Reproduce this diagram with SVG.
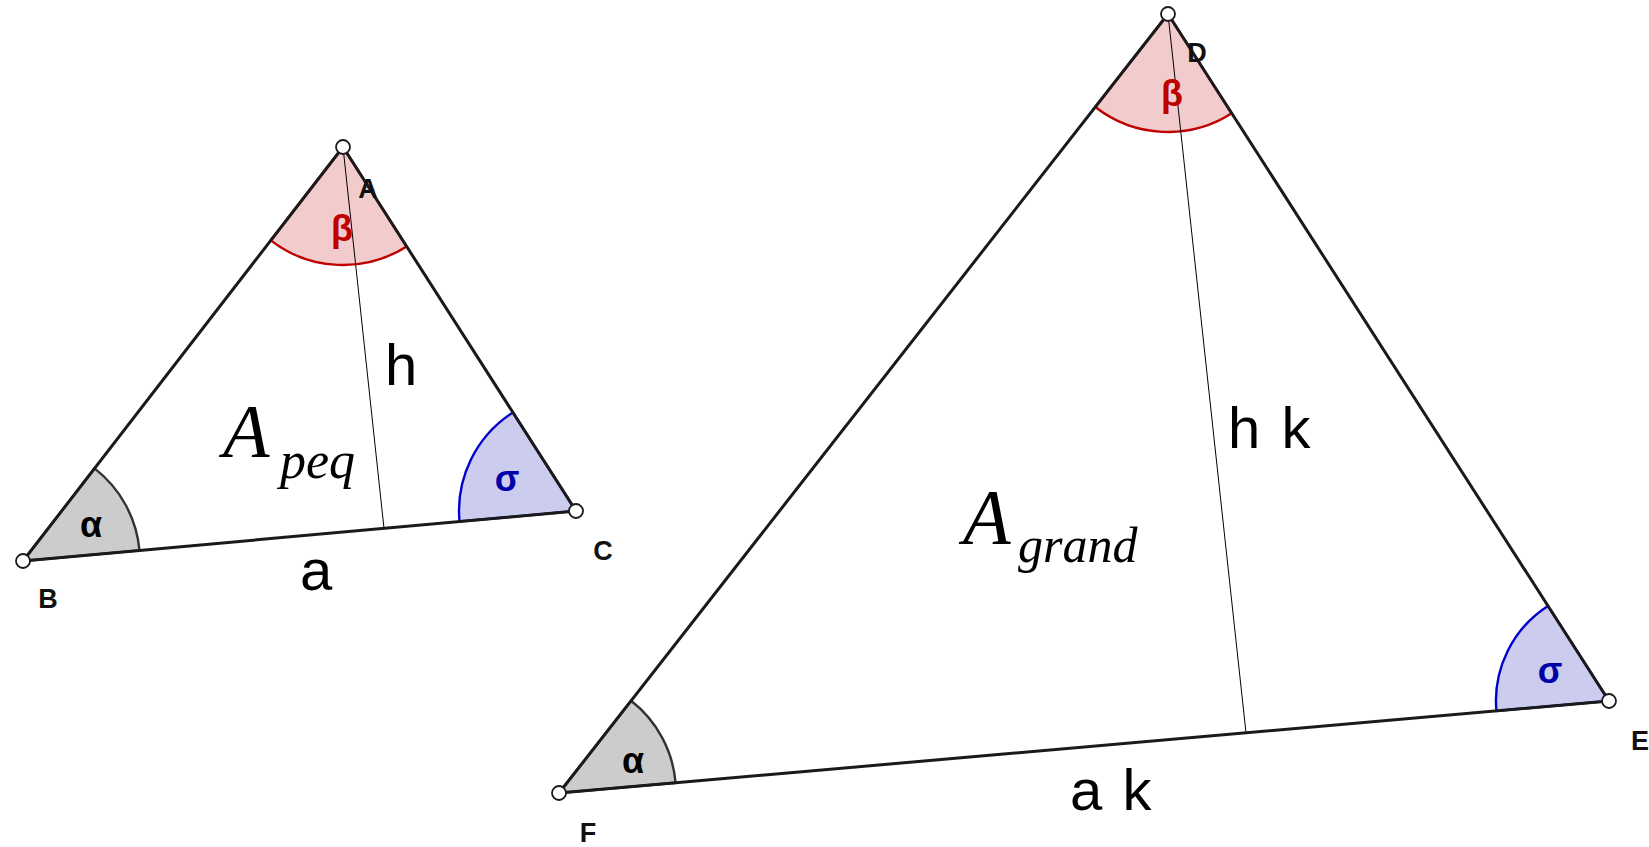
<svg xmlns="http://www.w3.org/2000/svg" width="1649" height="847" viewBox="0 0 1649 847">
<style>
.side{fill:none;stroke:#1a1a1a;stroke-width:3;stroke-linejoin:round}
.alt{stroke:#000;stroke-width:1}
.pt{fill:#fff;stroke:#1a1a1a;stroke-width:1.8}
.beta{fill:#f2cccc;stroke:#c00000;stroke-width:2.4}
.alpha{fill:#cccccc;stroke:#333;stroke-width:2.4}
.sigma{fill:#ccccee;stroke:#0000cc;stroke-width:2.4}
.vl{font-family:"Liberation Sans",Arial,sans-serif;font-weight:bold;font-size:27px;fill:#111;text-anchor:middle}
.gk{font-family:"Liberation Sans","DejaVu Sans",sans-serif;font-weight:bold;font-size:36px;text-anchor:middle}
.len{font-family:"Liberation Sans",Arial,sans-serif;font-size:58px;fill:#000}
.area{font-family:"Liberation Serif","Times New Roman",serif;font-style:italic;fill:#000}
</style>
<rect width="1649" height="847" fill="#fff"/>
<g id="angles">
<path class="beta" d="M343,147 L270.8,240.4 A118,118 0 0 0 406.6,246.4 Z"/>
<path class="alpha" d="M23,561 L94.5,468.4 A117,117 0 0 1 139.5,550.5 Z"/>
<path class="sigma" d="M576,511 L512.9,412.5 A117,117 0 0 0 459.5,521.5 Z"/>
<path class="beta" d="M1168,14 L1095.3,107 A118,118 0 0 0 1231.7,113.3 Z"/>
<path class="alpha" d="M559,793 L631.1,700.8 A117,117 0 0 1 675.6,782.8 Z"/>
<path class="sigma" d="M1609,701 L1548,605.9 A113,113 0 0 0 1496.4,710.9 Z"/>
</g>
<g id="connectors">
<line class="alt" x1="343" y1="147" x2="384" y2="528.4"/>
<line class="alt" x1="1168" y1="14" x2="1246" y2="732.8"/>
<polygon class="side" points="343,147 23,561 576,511"/>
<polygon class="side" points="1168,14 559,793 1609,701"/>
</g>
<g id="A"><circle class="pt" cx="343" cy="147" r="7"/><text class="vl" x="368" y="198">A</text></g>
<g id="B"><circle class="pt" cx="23" cy="561" r="7"/><text class="vl" x="48" y="608">B</text></g>
<g id="C"><circle class="pt" cx="576" cy="511" r="7"/><text class="vl" x="603" y="560">C</text></g>
<g id="D"><circle class="pt" cx="1168" cy="14" r="7"/><text class="vl" x="1197" y="62">D</text></g>
<g id="E"><circle class="pt" cx="1609" cy="701" r="7"/><text class="vl" x="1640" y="750">E</text></g>
<g id="F"><circle class="pt" cx="559" cy="793" r="7"/><text class="vl" x="588" y="842">F</text></g>
<g id="labels">
<text class="gk" x="342" y="241" fill="#c00000">β</text>
<text class="gk" x="91" y="537" fill="#000">α</text>
<text class="gk" x="507" y="491" fill="#0000aa">σ</text>
<text class="gk" x="1172" y="106" fill="#c00000">β</text>
<text class="gk" x="633" y="773" fill="#000">α</text>
<text class="gk" x="1550" y="683" fill="#0000aa">σ</text>
<text class="len" x="385" y="385">h</text>
<text class="len" x="300" y="590">a</text>
<text class="len" x="1228" y="448">h<tspan dx="5"> k</tspan></text>
<text class="len" x="1070" y="810">a<tspan dx="4"> k</tspan></text>
<text class="area" x="223" y="457" font-size="76">A</text>
<text class="area" x="280" y="478" font-size="52">peq</text>
<text class="area" x="963" y="543" font-size="78">A</text>
<text class="area" x="1018" y="562" font-size="50">grand</text>
</g>
</svg>
